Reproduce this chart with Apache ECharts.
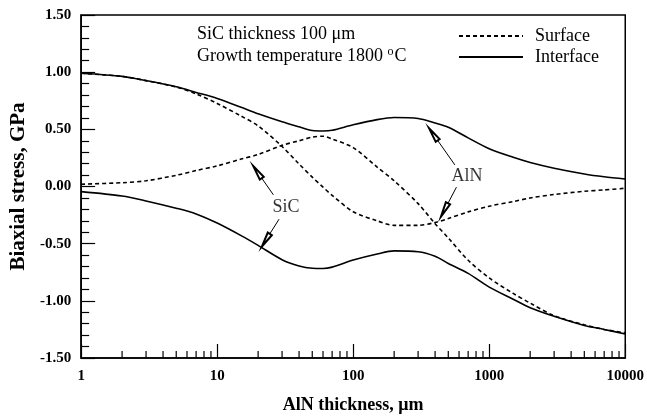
<!DOCTYPE html>
<html>
<head>
<meta charset="utf-8">
<script src="https://cdn.jsdelivr.net/npm/echarts@6/dist/echarts.min.js"></script>
<style>
  html, body { margin: 0; padding: 0; background: #fff; }
  #chart { width: 647px; height: 419px; }
</style>
</head>
<body>
<div id="chart"></div>
<script>
// AlN thickness (um)
const thickness = [1, 2, 3, 5, 7, 10, 15, 20, 30, 40, 50, 60, 70, 100, 150, 200, 300, 400, 500, 700, 1000, 1500, 2000, 3000, 5000, 7000, 10000]
// stress, GPa
const alnInterface = [0.99, 0.963, 0.926, 0.872, 0.823, 0.77, 0.693, 0.636, 0.566, 0.522, 0.49, 0.486, 0.492, 0.54, 0.585, 0.603, 0.595, 0.555, 0.518, 0.425, 0.33, 0.255, 0.21, 0.16, 0.11, 0.085, 0.065]
const alnSurface = [0.99, 0.963, 0.926, 0.870, 0.81, 0.726, 0.616, 0.53, 0.35, 0.197, 0.082, -0.006, -0.077, -0.221, -0.30, -0.34, -0.34, -0.315, -0.28, -0.222, -0.172, -0.132, -0.10, -0.07, -0.042, -0.03, -0.015]
const sicSurface = [0.02, 0.033, 0.05, 0.098, 0.14, 0.18, 0.24, 0.28, 0.36, 0.40, 0.432, 0.44, 0.415, 0.34, 0.17, 0.05, -0.15, -0.325, -0.45, -0.645, -0.80, -0.935, -1.02, -1.13, -1.21, -1.25, -1.28]
const sicInterface = [-0.045, -0.083, -0.126, -0.19, -0.24, -0.32, -0.43, -0.515, -0.64, -0.695, -0.715, -0.717, -0.705, -0.643, -0.59, -0.563, -0.57, -0.61, -0.673, -0.76, -0.88, -0.986, -1.06, -1.135, -1.215, -1.25, -1.29]

const minorTicks = [2, 3, 4, 5, 6, 7, 8, 9, 20, 30, 40, 50, 60, 70, 80, 90, 200, 300, 400, 500, 600, 700, 800, 900, 2000, 3000, 4000, 5000, 6000, 7000, 8000, 9000]
const yTicks = { min: -1.5, max: 1.5, step: 0.5 }

// label arrows [tail, tip] in data units
const arrows = [
  [[25.9, -0.073], [18.4, 0.18]],
  [[28.5, -0.286], [21.3, -0.525]],
  [[559, 0.189], [361, 0.51]],
  [[574, -0.006], [442, -0.263]]
]
const labels = [
  { name: 'SiC', value: [32.1, -0.178] },
  { name: 'AlN', value: [687, 0.093] }
]

const font = 'Liberation Serif'
const pairs = arr => thickness.map((x, i) => [x, arr[i]])
// narrow hollow arrow head, tip at the centre of the box
const arrowHead = 'emptyPath://M-16,-16M16,16M0,0L2.4,15L-2.4,15Z'

const myChart = echarts.init(document.getElementById('chart'))

function lineSeries(name, values, dashed) {
  return {
    name: name,
    type: 'line',
    data: pairs(values),
    symbol: 'none',
    smooth: 0.3,
    itemStyle: { color: '#000' },
    lineStyle: {
      color: '#000',
      width: 1.6,
      type: dashed ? [4, 3] : 'solid'
    },
    z: 3
  }
}

const option = {
  animation: false,
  grid: {
    left: 81,
    right: 19,
    top: 15,
    bottom: 61,
    show: true,
    borderColor: '#000',
    borderWidth: 1.5
  },
  legend: {
    data: ['Surface', 'Interface'],
    orient: 'vertical',
    left: 453,
    top: 22,
    itemWidth: 64,
    itemHeight: 2,
    itemGap: 3,
    selectedMode: false,
    itemStyle: { opacity: 0 },
    textStyle: {
      fontFamily: font,
      fontSize: 18,
      color: '#000',
      padding: [0, 0, 0, 7]
    }
  },
  graphic: [
    {
      type: 'text',
      left: 197,
      top: 25,
      style: { text: 'SiC thickness 100 \u03bcm', font: '18px "Liberation Serif"', fill: '#000' }
    },
    {
      type: 'text',
      left: 197,
      top: 46,
      style: {
        text: 'Growth temperature 1800 {sup|o}C',
        font: '18px "Liberation Serif"',
        fill: '#000',
        rich: {
          sup: { fontSize: 12, fontFamily: font, verticalAlign: 'top', padding: [0, 1, 9, 0] }
        }
      }
    }
  ],
  xAxis: {
    type: 'log',
    logBase: 10,
    min: 1,
    max: 10000,
    name: 'AlN thickness, \u03bcm',
    nameLocation: 'middle',
    nameGap: 38,
    nameTextStyle: {
      fontFamily: font,
      fontWeight: 'bold',
      fontSize: 18,
      color: '#000'
    },
    axisLine: { onZero: false, lineStyle: { color: '#000', width: 1.5 } },
    axisTick: { inside: true, length: 14, lineStyle: { color: '#000', width: 1.2 } },
    axisLabel: {
      margin: 11,
      fontFamily: font,
      fontWeight: 'bold',
      fontSize: 15,
      color: '#000',
      formatter(val) {
        return String(val)
      }
    },
    splitLine: { show: false }
  },
  yAxis: {
    type: 'value',
    min: yTicks.min,
    max: yTicks.max,
    interval: yTicks.step,
    name: 'Biaxial stress, GPa',
    nameLocation: 'middle',
    nameGap: 50,
    nameTextStyle: {
      fontFamily: font,
      fontWeight: 'bold',
      fontSize: 21,
      color: '#000'
    },
    axisLine: { lineStyle: { color: '#000', width: 1.5 } },
    axisTick: { inside: true, length: 14, lineStyle: { color: '#000', width: 1.2 } },
    minorTick: { show: true, splitNumber: 5, length: 8, lineStyle: { color: '#000', width: 1.2 } },
    axisLabel: {
      margin: 10,
      fontFamily: font,
      fontWeight: 'bold',
      fontSize: 15,
      color: '#000',
      formatter(val) {
        return val.toFixed(2)
      }
    },
    splitLine: { show: false }
  },
  series: [
    lineSeries('Interface', alnInterface, false),
    lineSeries('Surface', alnSurface, true),
    lineSeries('Surface', sicSurface, true),
    lineSeries('Interface', sicInterface, false),
    {
      // minor ticks of the log axis
      type: 'custom',
      silent: true,
      data: minorTicks,
      encode: { x: 0 },
      renderItem(params, api) {
        const p = api.coord([api.value(0), yTicks.min])
        return {
          type: 'line',
          shape: { x1: p[0], y1: p[1], x2: p[0], y2: p[1] - 7 },
          style: { stroke: '#000', lineWidth: 1.2 }
        }
      },
      z: 4
    },
    {
      type: 'lines',
      coordinateSystem: 'cartesian2d',
      silent: true,
      symbol: ['none', arrowHead],
      symbolSize: 32,
      lineStyle: { color: '#000', width: 1, opacity: 1, curveness: 0 },
      data: arrows.map(a => ({ coords: a })),
      z: 5
    },
    {
      type: 'scatter',
      silent: true,
      symbolSize: 0,
      data: labels,
      label: {
        show: true,
        position: 'inside',
        formatter: '{b}',
        fontFamily: font,
        fontSize: 18,
        color: '#000'
      },
      z: 6
    }
  ]
}

myChart.setOption(option)
window.addEventListener('resize', () => {
  if (myChart) {
    myChart.resize()
  }
})
</script>
</body>
</html>
